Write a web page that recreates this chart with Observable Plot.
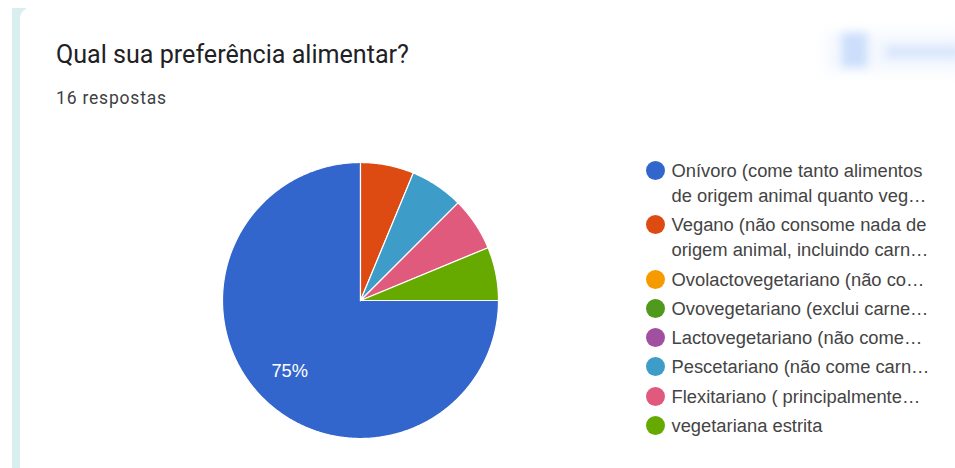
<!DOCTYPE html>
<html lang="pt">
<head>
<meta charset="utf-8">
<script src="https://cdn.jsdelivr.net/npm/d3@7"></script>
<script src="https://cdn.jsdelivr.net/npm/@observablehq/plot@0.6"></script>
<style>
  html, body { margin: 0; padding: 0; background: #fff; }
  #page { position: relative; width: 955px; height: 468px; overflow: hidden; background: #fff; }
  #chart { position: absolute; left: 0; top: 0; }
  #chart svg { display: block; background: transparent; }
  .rail { position: absolute; left: 12px; top: 8px; width: 14px; height: 460px; background: #d9eeee; }
  .card { position: absolute; left: 19.5px; top: 8px; width: 940px; height: 470px; background: #fff; border-top-left-radius: 10px; }
  .title { position: absolute; left: 56px; top: 39px; font: 400 25.1px/32px Roboto, sans-serif; color: #202124; white-space: nowrap; }
  .subtitle { position: absolute; left: 56px; top: 87px; font: 400 17.5px/22px Roboto, sans-serif; color: #3c4043; white-space: nowrap; letter-spacing: .8px; }
  .haze { position: absolute; filter: blur(6px); }
  .legend { position: absolute; left: 645.5px; top: 158px; font: 400 18.35px/25px "Liberation Sans", Arial, sans-serif; color: #444; }
  .entry { position: relative; padding-left: 26px; margin-bottom: 4.3px; white-space: nowrap; }
  .swatch { position: absolute; left: 0; top: 3px; width: 19px; height: 19px; border-radius: 50%; }
</style>
</head>
<body>
<div id="page">
  <div class="rail"></div>
  <div class="card"></div>
  <div class="title">Qual sua preferência alimentar?</div>
  <div class="subtitle">16 respostas</div>
  <div class="haze" style="left:826px;top:32px;width:140px;height:40px;background:#f4f8fe"></div>
  <div class="haze" style="left:842px;top:33px;width:25px;height:34px;background:#cbdefb;filter:blur(4px)"></div>
  <div class="haze" style="left:886px;top:46px;width:74px;height:12px;background:#d8e5fc;filter:blur(4px)"></div>
  <div id="chart"></div>
  <div class="legend" id="legend"></div>
</div>
<script>
// Survey answers: number of respondents per dietary preference.
const categories = [
  "Onívoro", "Vegano", "Ovolactovegetariano", "Ovovegetariano",
  "Lactovegetariano", "Pescetariano", "Flexitariano", "vegetariana estrita"
];
const counts = [12, 1, 0, 0, 0, 1, 1, 1];
const colors = ["#3366cc", "#dd4b13", "#f59b00", "#4f9a1c", "#a0509e", "#3d9cc8", "#e05a7d", "#66aa00"];
const legendLines = [
  ["Onívoro (come tanto alimentos", "de origem animal quanto veg…"],
  ["Vegano (não consome nada de", "origem animal, incluindo carn…"],
  ["Ovolactovegetariano (não co…"],
  ["Ovovegetariano (exclui carne…"],
  ["Lactovegetariano (não come…"],
  ["Pescetariano (não come carn…"],
  ["Flexitariano ( principalmente…"],
  ["vegetariana estrita"]
];

// Slices run clockwise, the first one starting at three o'clock.
const total = d3.sum(counts);
const arcs = d3.pie().sort(null).startAngle(Math.PI / 2).endAngle(Math.PI * 2.5)(counts);

// Each non-empty slice becomes a closed outline in unit-circle coordinates.
const outline = arcs.flatMap((a, i) => {
  if (a.value === 0) return [];
  const steps = Math.ceil((a.endAngle - a.startAngle) / 0.01);
  const rim = d3.range(steps + 1).map(k => {
    const t = a.startAngle + (a.endAngle - a.startAngle) * k / steps;
    return {category: categories[i], x: Math.sin(t), y: Math.cos(t)};
  });
  const hub = {category: categories[i], x: 0, y: 0};
  return [hub, ...rim, hub];
});

// Only slices large enough to hold text carry a percentage label.
const labels = arcs.flatMap((a, i) => {
  const share = a.value / total;
  if (share < 0.5) return [];
  const mid = (a.startAngle + a.endAngle) / 2;
  return [{x: 0.725 * Math.sin(mid), y: 0.725 * Math.cos(mid), text: `${Math.round(share * 100)}%`}];
});

const chart = Plot.plot({
  width: 955,
  height: 468,
  margin: 0,
  axis: null,
  x: {domain: [-1, 1], range: [222, 498]},
  y: {domain: [-1, 1], range: [438, 162]},
  color: {domain: categories, range: colors},
  marks: [
    Plot.line(outline, {
      x: "x", y: "y", z: "category",
      fill: "category", stroke: "#fff", strokeWidth: 1.2,
      strokeLinejoin: "round", curve: "linear"
    }),
    Plot.text(labels, {
      x: "x", y: "y", text: "text",
      fill: "#fff", fontSize: 18.3, fontFamily: "Liberation Sans, Arial, sans-serif"
    })
  ]
});
document.getElementById("chart").append(chart);

// Legend built from the same categories and colours.
const legend = document.getElementById("legend");
legendLines.forEach((lines, i) => {
  const entry = document.createElement("div");
  entry.className = "entry";
  const swatch = document.createElement("span");
  swatch.className = "swatch";
  swatch.style.background = colors[i];
  entry.append(swatch);
  lines.forEach(line => {
    const row = document.createElement("div");
    row.textContent = line;
    entry.append(row);
  });
  legend.append(entry);
});
</script>
</body>
</html>
